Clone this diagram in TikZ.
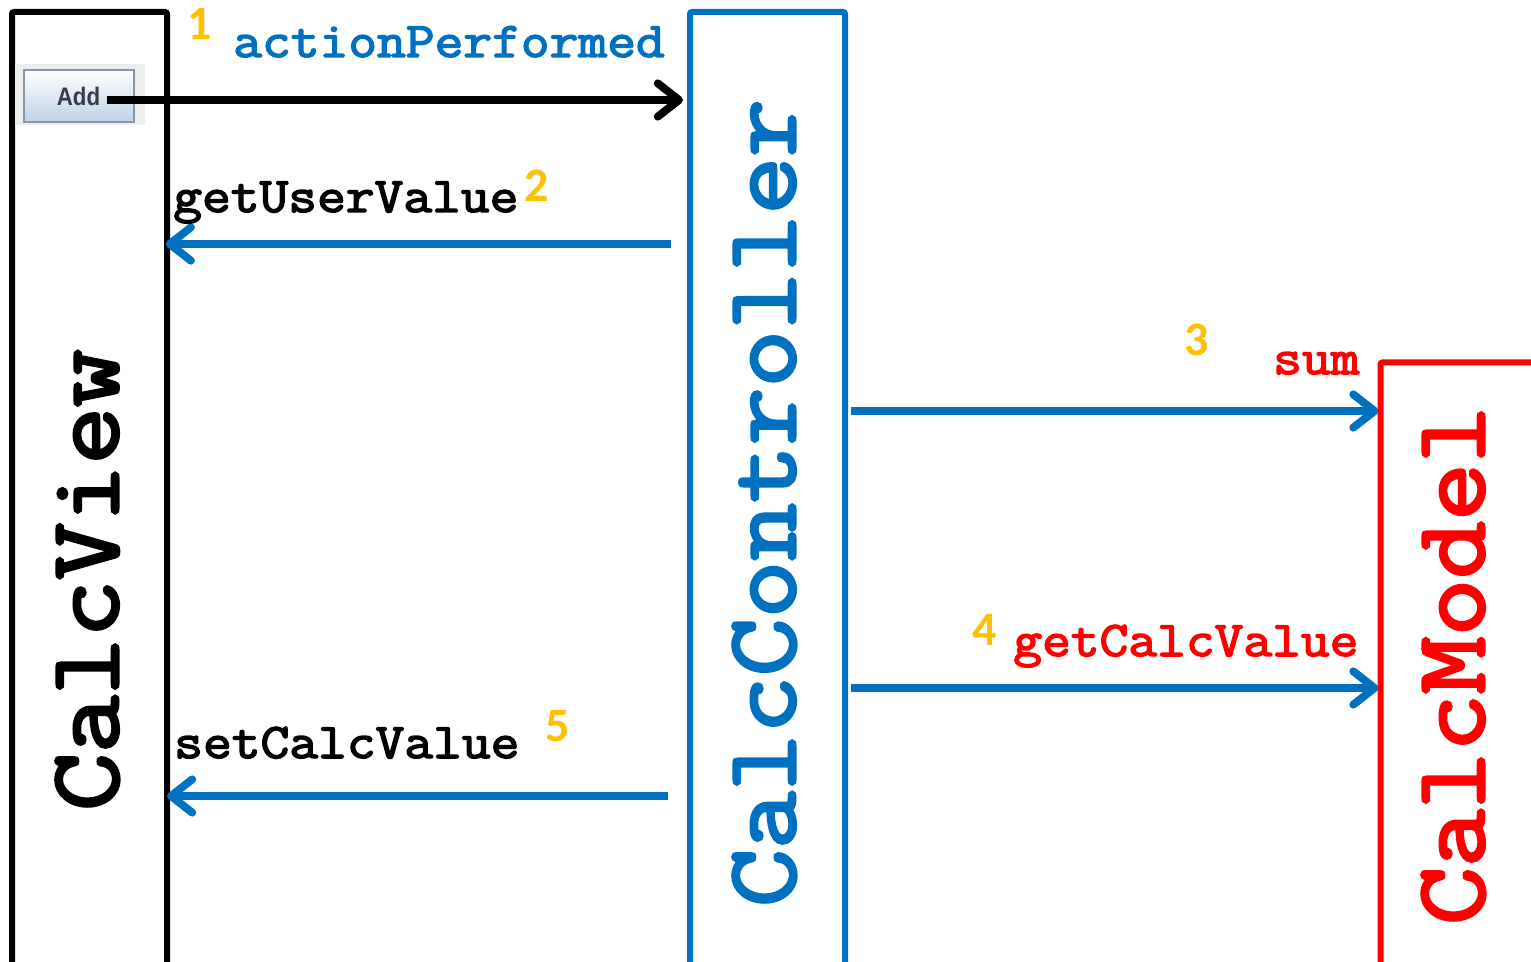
\documentclass[tikz,border=0pt]{standalone}
\usepackage{fontspec}
\setsansfont{Liberation Sans}[FakeStretch=0.88]
\newfontfamily\stepfont{Carlito}
\newfontfamily\codefont[FakeBold=3,FakeStretch=1.12]{Latin Modern Mono}
\usetikzlibrary{arrows.meta}
\usetikzlibrary{positioning}
\definecolor{ctrlblue}{HTML}{0070C0}
\definecolor{stepgold}{HTML}{FFC000}
\definecolor{addedge}{HTML}{8496AC}
\definecolor{addshade}{HTML}{BDD3E6}
\definecolor{addtext}{HTML}{3A3A4A}
\tikzset{
  classbox/.style={draw,line width=4.5pt,rounded corners=1.5pt,inner sep=0pt,outer sep=0pt},
  classname/.style={font=\codefont\fontsize{75}{76}\selectfont,rotate=90,anchor=base west,inner sep=0pt},
  callname/.style={font=\codefont\fontsize{37.4}{38}\selectfont,anchor=base west,inner sep=0pt},
  stepnum/.style={font=\stepfont\bfseries\fontsize{36}{36}\selectfont,text=stepgold,inner sep=0pt},
  callarrow/.style={line width=5.9pt,-{Straight Barb[length=16pt,width=25pt,line width=5.9pt,round]}},
}
\begin{document}
\begin{tikzpicture}[x=0.75pt,y=-0.75pt]
  \useasboundingbox (0,0) rectangle (1531,962);
  \clip (0,0) rectangle (1531,962);

  \node[classbox,minimum width=116.25pt,minimum height=780pt] (view) at (89.5,532) {};
  \node[classbox,draw=ctrlblue,minimum width=116.25pt,minimum height=780pt] (controller) at (767.5,532) {};
  \node[classbox,draw=red,minimum width=300pt,minimum height=480pt] (model) at (1580.5,682.5) {};

  \node[classname] (viewname) at (118,811) {CalcView};
  \node[classname,text=ctrlblue] (controllername) at (795,907) {CalcController};
  \node[classname,text=red] (modelname) at (1484,925) {CalcModel};

  \node[fill=black!7,minimum width=97.5pt,minimum height=45.75pt,inner sep=0pt] (addback) at (80,94.5) {};
  \node[draw=addedge,line width=1.5pt,top color=white,bottom color=addshade,
    minimum width=82.5pt,minimum height=39pt,inner sep=0pt,text=addtext,
    font=\sffamily\bfseries\fontsize{19}{19}\selectfont] (add) at (78.5,96) {Add};

  \coordinate (addout) at (107,100);
  \coordinate (usersrc) at (671,244);
  \coordinate (sumsrc) at (851,411);
  \coordinate (calcsrc) at (851,688);
  \coordinate (setsrc) at (668,796);

  \draw[callarrow,shorten >=5.25pt] (addout) -- (controller.west |- addout);
  \draw[callarrow,ctrlblue,shorten >=-1pt] (usersrc) -- (view.east |- usersrc);
  \draw[callarrow,ctrlblue,shorten >=1.5pt] (sumsrc) -- (model.west |- sumsrc);
  \draw[callarrow,ctrlblue,shorten >=1.5pt] (calcsrc) -- (model.west |- calcsrc);
  \draw[callarrow,ctrlblue] (setsrc) -- (view.east |- setsrc);

  \node[callname,text=ctrlblue] (action) at (233,57) {actionPerformed};
  \node[callname] (getuser) at (173,212) {getUserValue};
  \node[callname,text=red] (sum) at (1273,374) {sum};
  \node[callname,text=red] (getcalc) at (1013,656) {getCalcValue};
  \node[callname] (setcalc) at (174,758) {setCalcValue};

  \node[stepnum] (one) at (200,24) {1};
  \node[stepnum] (two) at (537,186) {2};
  \node[stepnum] (three) at (1197,340) {3};
  \node[stepnum] (four) at (985,630) {4};
  \node[stepnum] (five) at (558,726) {5};
\end{tikzpicture}
\end{document}
